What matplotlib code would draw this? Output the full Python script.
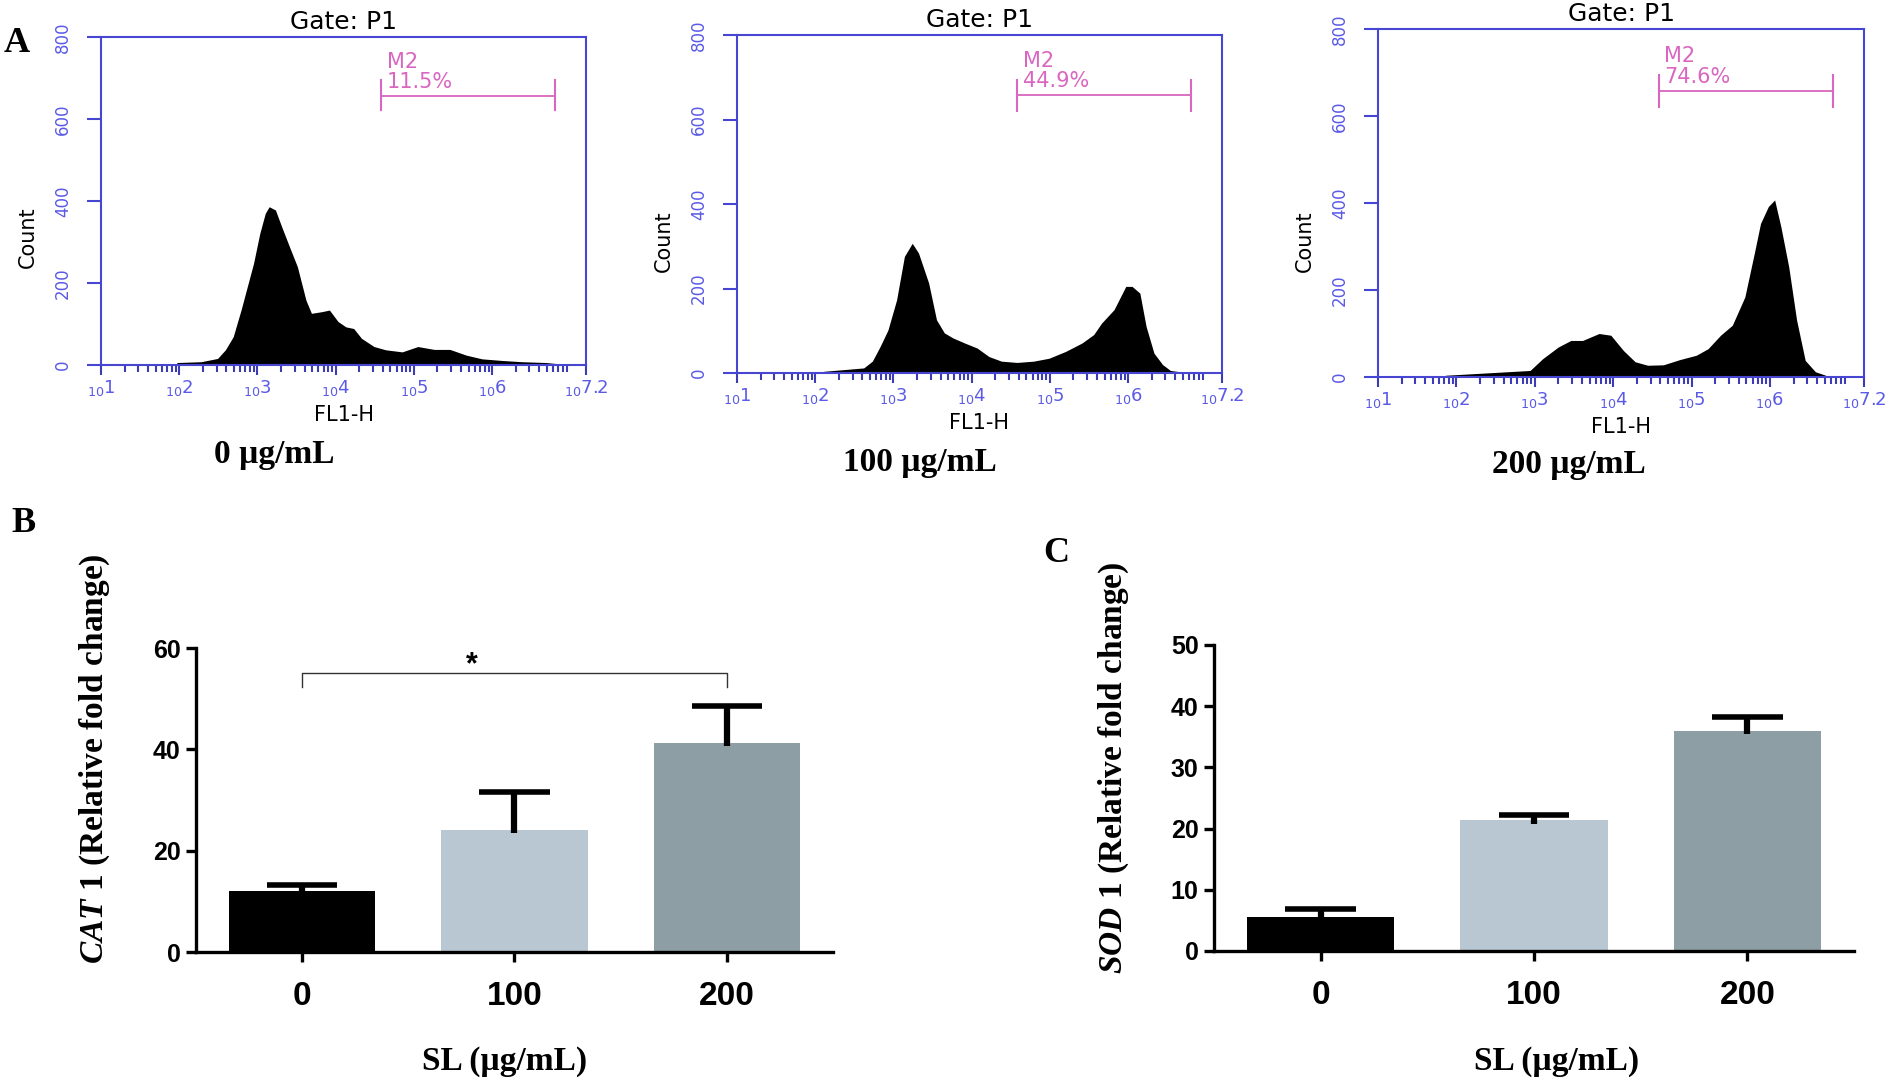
import numpy as np
import matplotlib.pyplot as plt
from matplotlib.ticker import LogLocator, NullFormatter

plt.rcParams['mathtext.fontset'] = 'custom'
plt.rcParams['mathtext.it'] = 'Liberation Serif:style=italic:weight=bold'
plt.rcParams['mathtext.rm'] = 'Liberation Serif:weight=bold'
plt.rcParams['mathtext.sf'] = 'DejaVu Sans'

W, H = 1890, 1083

# ---- Panel A: flow cytometry histograms (log10 FL1-H, count) ----
log_fl1_0 = [1.97, 2.28, 2.49, 2.59, 2.69, 2.79, 2.87, 2.95, 3.03, 3.10, 3.15, 3.23, 3.31,
             3.41, 3.51, 3.62, 3.69, 3.82, 3.92, 4.03, 4.13, 4.23, 4.33, 4.49, 4.64, 4.85,
             5.05, 5.26, 5.46, 5.67, 5.87, 6.13, 6.38, 6.69, 6.90]
count_0 = [6, 8, 16, 37, 69, 134, 191, 248, 321, 370, 386, 378, 337,
           288, 240, 158, 126, 130, 134, 106, 93, 89, 65, 45, 37, 32,
           45, 38, 38, 24, 15, 11, 8, 6, 2]

log_fl1_100 = [2.11, 2.62, 2.73, 2.83, 2.93, 3.04, 3.14, 3.24, 3.32, 3.45, 3.55, 3.65, 3.76,
               3.91, 4.07, 4.22, 4.38, 4.58, 4.79, 4.99, 5.20, 5.41, 5.56, 5.66, 5.82, 5.97,
               6.05, 6.15, 6.23, 6.33, 6.44, 6.54, 6.70]
count_100 = [4, 12, 28, 63, 102, 173, 276, 307, 284, 213, 126, 95, 83,
             71, 59, 39, 28, 25, 28, 35, 51, 71, 91, 118, 150, 205,
             205, 189, 110, 47, 20, 6, 2]

log_fl1_200 = [1.86, 2.94, 3.10, 3.30, 3.46, 3.61, 3.82, 3.97, 4.13, 4.28, 4.44, 4.64, 4.85,
               5.06, 5.21, 5.37, 5.52, 5.68, 5.80, 5.88, 5.98, 6.06, 6.14, 6.24, 6.34, 6.45,
               6.58, 6.71]
count_200 = [4, 15, 42, 69, 84, 84, 100, 96, 61, 35, 27, 28, 40,
             50, 65, 96, 119, 184, 284, 353, 392, 407, 345, 253, 131, 38,
             12, 4]

dose_labels = ['0 µg/mL', '100 µg/mL', '200 µg/mL']
m2_pct = ['11.5%', '44.9%', '74.6%']
m2_range = [4.58, 6.80]
m2_level = 657
decade_labels = ['1', '2', '3', '4', '5', '6', '7.2']

# ---- Panels B, C: qPCR bars ----
sl_doses = ['0', '100', '200']
cat1_mean = [12.1, 24.1, 41.3]
cat1_err = [1.1, 7.5, 7.2]
sod1_mean = [5.6, 21.4, 36.0]
sod1_err = [1.2, 0.8, 2.2]
bar_colors = ['#000000', '#b9c7d3', '#8d9fa4']

blue = '#4646d2'
pink = '#d966c0'


def px_axes(fig, l, t, r, b):
    return fig.add_axes([l / W, 1 - b / H, (r - l) / W, (b - t) / H])


fig = plt.figure(figsize=(W / 100, H / 100), dpi=100)

hist_boxes = [(101, 37, 586, 365), (737, 35, 1222, 373), (1378, 29, 1864, 377)]
hist_data = [(log_fl1_0, count_0), (log_fl1_100, count_100), (log_fl1_200, count_200)]
dose_pos = [(274, 454), (920, 463), (1569, 465)]

for i, (box, (lx, cnt)) in enumerate(zip(hist_boxes, hist_data)):
    ax = px_axes(fig, *box)
    hgt = box[3] - box[1]
    wid = box[2] - box[0]
    ax.fill_between(10 ** np.array(lx), cnt, 0, color='black', lw=0)
    ax.set_xscale('log')
    ax.set_xlim(10, 10 ** 7.2)
    ax.set_ylim(0, 800)
    for s in ax.spines.values():
        s.set_color(blue)
        s.set_linewidth(1.5)
    # decade labels: tiny "10" with the exponent at normal size
    ax.set_xticks([10 ** float(d) for d in decade_labels],
                  labels=[r'$\mathsf{{}_{10}%s}$' % d for d in decade_labels])
    ax.xaxis.set_minor_locator(LogLocator(base=10, subs=np.arange(2, 10) * 1.0, numticks=50))
    ax.xaxis.set_minor_formatter(NullFormatter())
    ax.set_yticks([0, 200, 400, 600, 800])
    ax.set_yticklabels(['0', '200', '400', '600', '800'], rotation=90, va='center',
                       fontsize=12, color='#5a5ae6', family='DejaVu Sans')
    ax.tick_params(axis='y', direction='out', length=10, width=1.5, color=blue, pad=11)
    ax.tick_params(axis='x', which='major', direction='out', length=7, width=1.5,
                   color='#3c3cb4', labelsize=13, labelcolor='#5a5ae6', pad=2)
    ax.tick_params(axis='x', which='minor', direction='out', length=5, width=1.5, color='#3c3cb4')
    ax.set_ylabel('Count', fontsize=15, family='DejaVu Sans')
    ax.yaxis.set_label_coords(-63 / wid, 0.39)
    ax.text(0.5, 1 + 15 / hgt, 'Gate: P1', transform=ax.transAxes, ha='center', va='center',
            fontsize=18, family='DejaVu Sans')
    ax.text(0.5, -50 / hgt, 'FL1-H', transform=ax.transAxes, ha='center', va='center',
            fontsize=15, family='DejaVu Sans')
    # M2 marker
    x0, x1 = 10 ** m2_range[0], 10 ** m2_range[1]
    ax.plot([x0, x1], [m2_level, m2_level], color=pink, lw=1.3)
    ax.plot([x0, x0], [m2_level - 36, m2_level + 37], color=pink, lw=1.5)
    ax.plot([x1, x1], [m2_level - 36, m2_level + 37], color=pink, lw=1.5)
    ax.text(10 ** (m2_range[0] + 0.07), 739, 'M2', color=pink, fontsize=15,
            family='DejaVu Sans', ha='left', va='center')
    ax.text(10 ** (m2_range[0] + 0.07), 690, m2_pct[i], color=pink, fontsize=15,
            family='DejaVu Sans', ha='left', va='center')
    fig.text(dose_pos[i][0] / W, 1 - dose_pos[i][1] / H, dose_labels[i], ha='center', va='center',
             fontsize=24, family='Liberation Serif', weight='bold')

fig.text(17 / W, 1 - 43 / H, 'A', ha='center', va='center', fontsize=26,
         family='Liberation Serif', weight='bold')
fig.text(23 / W, 1 - 523 / H, 'B', ha='center', va='center', fontsize=26,
         family='Liberation Serif', weight='bold')
fig.text(1056 / W, 1 - 553 / H, 'C', ha='center', va='center', fontsize=26,
         family='Liberation Serif', weight='bold')


def bar_panel(ax, mean, err, ymax, step, gene, ylab_x, ylab_y, xlab_x):
    x = np.arange(len(mean))
    ax.bar(x, mean, width=0.69, color=bar_colors, zorder=2)
    top = np.array(mean) + np.array(err)
    ax.vlines(x, np.array(mean) - 0.6, top, color='black', lw=4.5, zorder=3)
    ax.hlines(top, x - 0.165, x + 0.165, color='black', lw=4, zorder=3)
    ax.set_xlim(-0.5, 2.5)
    ax.set_ylim(0, ymax)
    ax.set_yticks(np.arange(0, ymax + 1, step))
    ax.set_xticks(x, labels=sl_doses)
    for s in ['top', 'right']:
        ax.spines[s].set_visible(False)
    for s in ['left', 'bottom']:
        ax.spines[s].set_linewidth(2.4)
    ax.tick_params(axis='y', length=7, width=2.4, pad=4)
    ax.tick_params(axis='x', length=7, width=2.4, pad=14)
    for lab in ax.get_yticklabels():
        lab.set_fontproperties({'family': 'Liberation Sans', 'weight': 'bold', 'size': 18})
    for lab in ax.get_xticklabels():
        lab.set_fontproperties({'family': 'Liberation Sans', 'weight': 'bold', 'size': 24})
    ax.set_ylabel(r'$\mathit{%s}$ (Relative fold change)' % gene, fontsize=24,
                  family='Liberation Serif', weight='bold')
    ax.yaxis.set_label_coords(ylab_x, ylab_y)
    ax.text(xlab_x, -0.36, 'SL (µg/mL)', transform=ax.transAxes, ha='center', va='center',
            fontsize=24, family='Liberation Serif', weight='bold')


axB = px_axes(fig, 196, 648, 833, 952)
bar_panel(axB, cat1_mean, cat1_err, 60, 20, r'CAT\ 1', -0.132, 0.635, 0.485)
axB.plot([0, 0, 2, 2], [52.3, 55.1, 55.1, 52.3], color='#333333', lw=1, clip_on=False)
axB.text(0.8, 56.6, '*', ha='center', va='center', fontsize=22,
         family='Liberation Sans', weight='bold')

axC = px_axes(fig, 1214, 645, 1854, 951)
bar_panel(axC, sod1_mean, sod1_err, 50, 10, r'SOD\ 1', -0.13, 0.598, 0.535)

fig.savefig('out.png', dpi=100)
